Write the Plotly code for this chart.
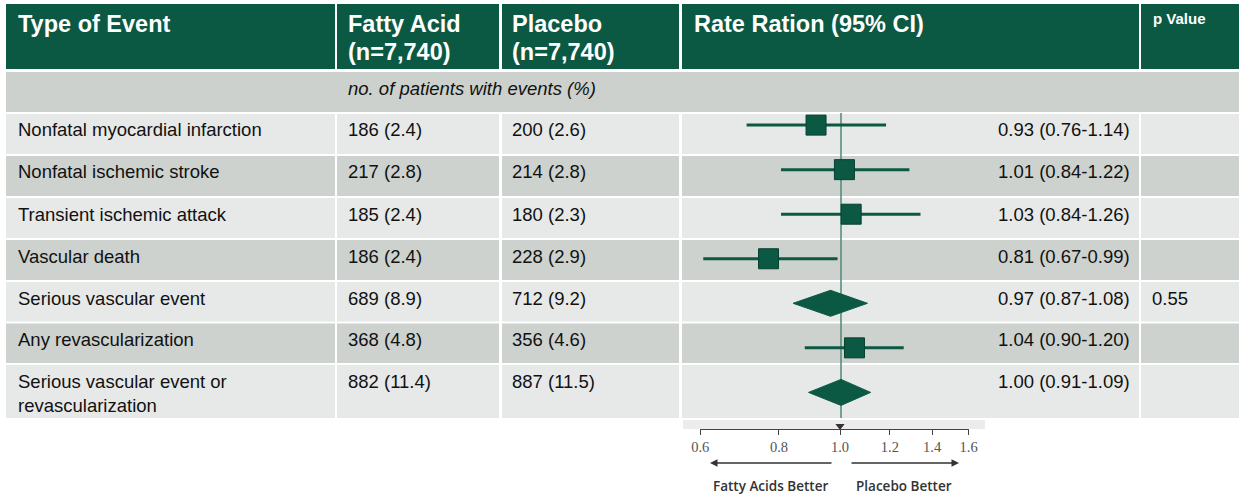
import math
import plotly.graph_objects as go

# ---------------- data ----------------
events = [
    "Nonfatal myocardial infarction",
    "Nonfatal ischemic stroke",
    "Transient ischemic attack",
    "Vascular death",
    "Serious vascular event",
    "Any revascularization",
    "Serious vascular event or<br>revascularization",
]
fatty_n = [186, 217, 185, 186, 689, 368, 882]
fatty_pct = [2.4, 2.8, 2.4, 2.4, 8.9, 4.8, 11.4]
placebo_n = [200, 214, 180, 228, 712, 356, 887]
placebo_pct = [2.6, 2.8, 2.3, 2.9, 9.2, 4.6, 11.5]
rate_ratio = [0.93, 1.01, 1.03, 0.81, 0.97, 1.04, 1.00]
ci_low = [0.76, 0.84, 0.84, 0.67, 0.87, 0.90, 0.91]
ci_high = [1.14, 1.22, 1.26, 0.99, 1.08, 1.20, 1.09]
is_summary = [False, False, False, False, True, False, True]
p_values = ["", "", "", "", "0.55", "", ""]
tick_vals = [0.6, 0.8, 1.0, 1.2, 1.4, 1.6]
tick_text = ["0.6", "0.8", "1.0", "1.2", "1.4", "1.6"]
headers = ["Type of Event", "Fatty Acid", "Placebo", "Rate Ration (95% CI)", "p Value"]
header_sub = ["", "(n=7,740)", "(n=7,740)", "", ""]
subheader = "no. of patients with events (%)"
left_label = "Fatty Acids Better"
right_label = "Placebo Better"

# ---------------- layout geometry (pixels) ----------------
W, H = 1241, 494
def fx(p):
    return p / W
def fy(p):
    return 1 - p / H

GREEN = "#0B5943"
LIGHT = "#E7E9E8"
DARK = "#CDD2CE"
SUBHDR = "#CCD1CD"
FONT = "Arial, Liberation Sans, sans-serif"

col_edges = [(6, 335), (337, 499), (502, 679), (682, 1139), (1141, 1239)]
row_bounds = [113, 155, 197, 239, 281, 322.5, 364, 418]

shapes = []
def rect(x0, x1, y0, y1, color):
    shapes.append(dict(type="rect", xref="paper", yref="paper", x0=fx(x0), x1=fx(x1),
                       y0=fy(y1), y1=fy(y0), fillcolor=color, line=dict(width=0), layer="below"))

# header
for (c0, c1) in col_edges:
    rect(c0, c1, 4, 69, GREEN)
# subheader
rect(6, 1239, 72, 112, SUBHDR)
# data rows
for i in range(len(events)):
    y0 = row_bounds[i] + 1
    y1 = row_bounds[i + 1] - (1 if i < len(events) - 1 else 0)
    color = LIGHT if i % 2 == 0 else DARK
    for (c0, c1) in col_edges:
        rect(c0, c1, y0, y1, color)
# strip behind the axis
rect(683, 985, 420, 429, "#ECECEC")

annotations = []
def text(x, y, s, size=18.5, color="#111111", anchor="left", family=FONT, yanchor="middle", weight=None):
    f = dict(family=family, size=size, color=color)
    if weight:
        f["weight"] = weight
    annotations.append(dict(xref="paper", yref="paper", x=fx(x), y=fy(y), text=s, showarrow=False,
                            xanchor=anchor, yanchor=yanchor, font=f, align="left"))

col_text_x = [16, 346, 510, 692, 1151]
for k, h in enumerate(headers):
    if k == 4:
        text(col_text_x[k], 18, "<b>%s</b>" % h, size=15, color="white")
    else:
        text(col_text_x[k], 24, "<b>%s</b>" % h, size=23.5, color="white")
    if header_sub[k]:
        text(col_text_x[k], 52, "<b>%s</b>" % header_sub[k], size=23.5, color="white")

text(346, 88, "<i>%s</i>" % subheader, size=18.5)

for i in range(len(events)):
    top = row_bounds[i] + 1
    ty = top + 16
    if "<br>" in events[i]:
        text(16, top + 28, events[i])
    else:
        text(16, ty, events[i])
    text(346, ty, "%d (%.1f)" % (fatty_n[i], fatty_pct[i]))
    text(510, ty, "%d (%.1f)" % (placebo_n[i], placebo_pct[i]))
    text(1132, ty, "%.2f (%.2f-%.2f)" % (rate_ratio[i], ci_low[i], ci_high[i]), anchor="right")
    if p_values[i]:
        text(1150, ty, p_values[i])

# arrows and direction labels
annotations.append(dict(xref="paper", yref="paper", x=fx(710), y=fy(463), ax=123, ay=0, text="",
                        showarrow=True, arrowhead=2, arrowsize=1, arrowwidth=1.5, arrowcolor="#333333"))
annotations.append(dict(xref="paper", yref="paper", x=fx(959), y=fy(463), ax=-109, ay=0, text="",
                        showarrow=True, arrowhead=2, arrowsize=1, arrowwidth=1.5, arrowcolor="#333333"))
text(770, 486, left_label, size=13.5, color="#333333", anchor="center", family="Open Sans, sans-serif", weight=600)
text(904, 486, right_label, size=13.5, color="#333333", anchor="center", family="Open Sans, sans-serif", weight=600)

# ---------------- forest plot ----------------
n = len(events)
row_idx = list(range(n))
# forest rows: index 0 at ~125px, pitch ~44.55px
y_top_idx = (113 - 125.1) / 44.55
y_bot_idx = (418 - 125.1) / 44.55
diamond_half = 13 / 44.55

fig = go.Figure()

# reference line at ratio 1
fig.add_trace(go.Scatter(x=[1, 1], y=[y_top_idx, y_bot_idx], mode="lines",
                         line=dict(color="#4E8975", width=1.5), hoverinfo="skip", showlegend=False))

# confidence intervals
cx, cy = [], []
for i in row_idx:
    if not is_summary[i]:
        cx += [ci_low[i], ci_high[i], None]
        cy += [i, i, None]
fig.add_trace(go.Scatter(x=cx, y=cy, mode="lines", line=dict(color=GREEN, width=3),
                         hoverinfo="skip", showlegend=False))

# point estimates
sq = [i for i in row_idx if not is_summary[i]]
fig.add_trace(go.Scatter(x=[rate_ratio[i] for i in sq], y=sq, mode="markers",
                         marker=dict(symbol="square", size=20, color=GREEN, line=dict(color="#06402F", width=1)),
                         showlegend=False))

# summary diamonds
for i in row_idx:
    if is_summary[i]:
        fig.add_trace(go.Scatter(
            x=[ci_low[i], rate_ratio[i], ci_high[i], rate_ratio[i], ci_low[i]],
            y=[i, i - diamond_half, i, i + diamond_half, i],
            mode="lines", fill="toself", fillcolor=GREEN, line=dict(color=GREEN, width=1),
            showlegend=False, hoverinfo="skip"))

# small marker at 1.0 on the tick axis
fig.add_trace(go.Scatter(x=[1.0], y=[0.6], xaxis="x2", yaxis="y2", mode="markers",
                         marker=dict(symbol="triangle-down", size=8, color="#333333"),
                         showlegend=False, hoverinfo="skip"))

mark_one_px = 841
px_per_decade = 792
fig.update_layout(
    width=W, height=H, margin=dict(l=0, r=0, t=0, b=0, pad=0, autoexpand=False),
    paper_bgcolor="white", plot_bgcolor="rgba(0,0,0,0)",
    shapes=shapes, annotations=annotations, showlegend=False,
    xaxis=dict(type="log", domain=[fx(682), fx(1140)],
               range=[(682 - mark_one_px) / px_per_decade, (1140 - mark_one_px) / px_per_decade],
               visible=False, anchor="y", fixedrange=True),
    yaxis=dict(domain=[fy(418), fy(113)], range=[y_bot_idx, y_top_idx], visible=False,
               anchor="x", fixedrange=True),
    xaxis2=dict(type="log", domain=[fx(700.3), fx(968.6)],
                range=[math.log10(tick_vals[0]), math.log10(tick_vals[-1])],
                anchor="y2", showline=True, linecolor="#444444", linewidth=1,
                ticks="outside", ticklen=5, tickwidth=1, tickcolor="#444444",
                tickmode="array", tickvals=tick_vals, ticktext=tick_text,
                tickfont=dict(family="Liberation Serif, DejaVu Serif, serif", size=14.5, color="#555555"),
                showgrid=False, zeroline=False, fixedrange=True),
    yaxis2=dict(domain=[fy(429), fy(424)], range=[0, 1], visible=False, anchor="x2", fixedrange=True),
)

fig.write_html("out.html")
